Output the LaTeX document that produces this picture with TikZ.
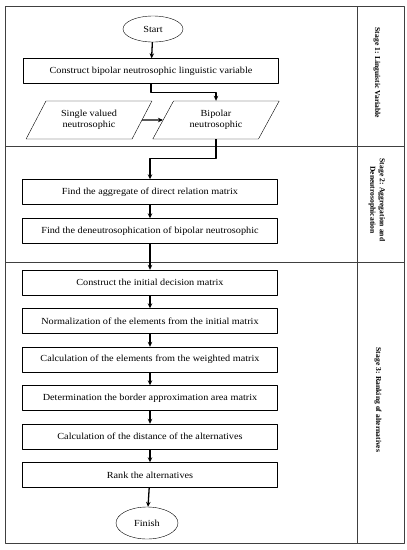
\documentclass[tikz,border=0pt]{standalone}
\usepackage{fontspec}
\setmainfont{Liberation Serif}
\newfontfamily\boxfont[FakeStretch=1.1]{Liberation Serif}
\usetikzlibrary{shapes.geometric,arrows.meta}
\begin{document}
\begin{tikzpicture}[x=1pt,y=-1pt,line join=round,>={Stealth[length=5pt,width=4.5pt]},thin]
	\tikzset{every node/.style={font=\boxfont\fontsize{9.3}{11}\selectfont},
		box/.style={draw,minimum width=255pt,minimum height=25pt,inner sep=1pt},
		oval/.style={draw,ellipse,minimum width=60pt,minimum height=26pt,inner sep=0pt},
		para/.style={draw,trapezium,trapezium left angle=58,trapezium right angle=122,trapezium stretches=true,minimum width=127pt,minimum height=38pt,align=center,inner sep=1pt},
		flow/.style={->,line width=1.3pt},
		stagetxt/.style={rotate=-90,font=\bfseries\fontsize{7.6}{9.5}\selectfont,align=center}}
	\useasboundingbox (0,0) rectangle (407,550);
	% frame and stage rows
	\draw[black!75] (5,6) rectangle (404,543);
	\draw[black!75] (357,6)--(357,543);
	\foreach \y in {146,262}
	\draw[black!75] (5,\y)--(404,\y);
	\node[stagetxt] (lab1) at (377,73) {Stage 1: Linguistic Variable};
	\node[stagetxt] (lab2) at (377,200) {Stage 2: Aggregation and\\Deneutrosophication};
	\node[stagetxt] (lab3) at (378,400) {Stage 3: Ranking of alternatives};
	% stage 1
	\node[oval] (start) at (153,29) {Start};
	\node[box] (cons) at (151,71) {Construct bipolar neutrosophic linguistic variable};
	\node[para] (single) at (89,120) {Single valued\\neutrosophic};
	\node[para] (bip) at (216,120) {Bipolar\\neutrosophic};
	\draw[flow] (start)--(cons);
	\draw[flow] (cons.south)--++(0,9)-|(bip);
	\draw[flow] (single)--(bip);
	% stage 2
	\node[box] (agg) at (150,192) {Find the aggregate of direct relation matrix};
	\node[box] (deneu) at (150,231) {Find the deneutrosophication of bipolar neutrosophic};
	\draw[flow] (bip.south)--++(0,19)-|(agg);
	\draw[flow] (agg)--(deneu);
	% stage 3
	\foreach \i/\y/\txt in {1/282.5/Construct the initial decision matrix,
		2/321/Normalization of the elements from the initial matrix,
		3/359.5/Calculation of the elements from the weighted matrix,
		4/398/Determination the border approximation area matrix,
		5/436.5/Calculation of the distance of the alternatives,
		6/475/Rank the alternatives}
	\node[box] (s\i) at (150,\y) {\txt};
	\node[oval,minimum width=62pt,minimum height=32pt] (finish) at (147,523) {Finish};
	\draw[flow] (deneu)--(s1);
	\foreach \i [evaluate=\i as \j using int(\i+1)] in {1,...,5}
	\draw[flow] (s\i)--(s\j);
	\draw[flow] (s6)--(finish);
\end{tikzpicture}
\end{document}
